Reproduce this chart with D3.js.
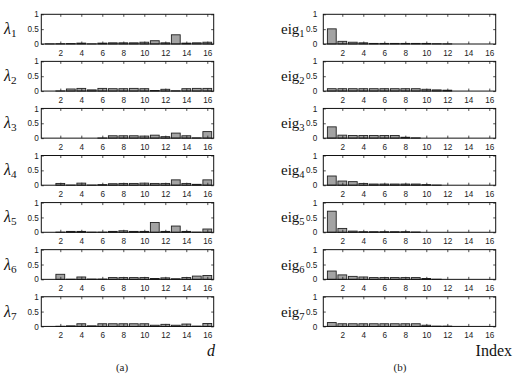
<!DOCTYPE html>
<html><head><meta charset="utf-8">
<script src="https://cdn.jsdelivr.net/npm/d3@7"></script>
<style>body{margin:0;background:#fff}svg{display:block}</style>
</head><body>
<svg id="c" width="513" height="375"></svg>
<script>
// ---- data ----
const indices = d3.range(1, 17);
const xTicks = [2, 4, 6, 8, 10, 12, 14, 16];
const yTicks = [0, 0.5, 1];
const yTickLabels = ["0", "0.5", "1"];

const lambda1 = [0.005, 0.01, 0.015, 0.03, 0.005, 0.03, 0.04, 0.04, 0.04, 0.06, 0.11, 0.04, 0.31, 0.03, 0.04, 0.06];
const lambda2 = [0, 0.005, 0.07, 0.09, 0.04, 0.09, 0.08, 0.08, 0.09, 0.08, 0.02, 0.06, 0.01, 0.08, 0.09, 0.09];
const lambda3 = [0, 0, 0, 0, 0, 0.005, 0.08, 0.08, 0.08, 0.07, 0.10, 0.05, 0.17, 0.08, 0.01, 0.22];
const lambda4 = [0, 0.06, 0.005, 0.07, 0.005, 0.02, 0.05, 0.06, 0.06, 0.07, 0.06, 0.06, 0.18, 0.06, 0.03, 0.18];
const lambda5 = [0, 0.005, 0.03, 0.03, 0.005, 0.005, 0.03, 0.05, 0.03, 0.03, 0.33, 0.03, 0.21, 0.03, 0.005, 0.11];
const lambda6 = [0, 0.17, 0.005, 0.08, 0.01, 0.01, 0.06, 0.06, 0.06, 0.06, 0.03, 0.05, 0.02, 0.06, 0.11, 0.13];
const lambda7 = [0, 0.005, 0.02, 0.09, 0.02, 0.09, 0.09, 0.09, 0.09, 0.09, 0.04, 0.07, 0.04, 0.08, 0.01, 0.10];

const eig1 = [0.51, 0.09, 0.06, 0.04, 0.02, 0.02, 0.02, 0.02, 0.02, 0.02, 0.01, 0.005, 0, 0, 0, 0];
const eig2 = [0.08, 0.08, 0.08, 0.08, 0.08, 0.08, 0.08, 0.08, 0.08, 0.06, 0.04, 0.03, 0, 0, 0, 0];
const eig3 = [0.38, 0.10, 0.09, 0.09, 0.09, 0.09, 0.09, 0.03, 0.01, 0, 0, 0, 0, 0, 0, 0];
const eig4 = [0.31, 0.14, 0.12, 0.06, 0.04, 0.04, 0.04, 0.04, 0.04, 0.02, 0.005, 0, 0, 0, 0, 0];
const eig5 = [0.71, 0.13, 0.04, 0.02, 0.02, 0.02, 0.02, 0.02, 0.01, 0, 0, 0, 0, 0, 0, 0];
const eig6 = [0.28, 0.15, 0.10, 0.08, 0.06, 0.06, 0.06, 0.06, 0.06, 0.03, 0.005, 0, 0, 0, 0, 0];
const eig7 = [0.13, 0.09, 0.09, 0.09, 0.09, 0.09, 0.09, 0.09, 0.09, 0.04, 0.01, 0.01, 0, 0, 0, 0];

const lambdaSeries = [lambda1, lambda2, lambda3, lambda4, lambda5, lambda6, lambda7];
const eigSeries = [eig1, eig2, eig3, eig4, eig5, eig6, eig7];
const subscripts = ["1", "2", "3", "4", "5", "6", "7"];

// ---- layout ----
const svg = d3.select("#c");
const rowTop0 = 14.3, rowStep = 47.07, rowH = 29.7;

const columns = [
  { x0: 41.3, x1: 213.7, base: "λ", italic: true, labelX: 4, labelSize: 16, tickGap: 2.5,
    series: lambdaSeries, xTitle: "d", xTitleItalic: true, xTitleX: 215, caption: "(a)", captionX: 122 },
  { x0: 323.3, x1: 495.7, base: "eig", italic: false, labelX: 281, labelSize: 15, tickGap: 6,
    series: eigSeries, xTitle: "Index", xTitleItalic: false, xTitleX: 512, caption: "(b)", captionX: 400 }
];

columns.forEach(col => {
  const x = d3.scaleLinear().domain([0.19, 16.61]).range([col.x0, col.x1]);
  const bw = (x(1) - x(0)) * 0.84;
  col.series.forEach((vals, i) => {
    const top = rowTop0 + i * rowStep;
    const y = d3.scaleLinear().domain([0, 1]).range([top + rowH, top]);
    const g = svg.append("g");

    // bars
    g.selectAll("rect.bar").data(indices).join("rect")
      .attr("x", d => x(d) - bw / 2)
      .attr("y", d => y(vals[d - 1]))
      .attr("width", bw)
      .attr("height", d => y(0) - y(vals[d - 1]))
      .attr("fill", "#a3a3a3")
      .attr("stroke", "#222")
      .attr("stroke-width", 0.9);

    // axes (ticks inward)
    const axB = d3.axisBottom(x).tickValues(xTicks).tickSizeInner(-2.5).tickSizeOuter(0).tickPadding(6);
    const axT = d3.axisTop(x).tickValues(xTicks).tickSizeInner(-2.5).tickSizeOuter(0).tickFormat("");
    const axL = d3.axisLeft(y).tickValues(yTicks).tickSizeInner(-2.5).tickSizeOuter(0)
      .tickFormat((d, k) => yTickLabels[k]).tickPadding(col.tickGap);
    const axR = d3.axisRight(y).tickValues(yTicks).tickSizeInner(-2.5).tickSizeOuter(0).tickFormat("");

    const gb = g.append("g").attr("transform", `translate(0,${y(0)})`).call(axB);
    const gt = g.append("g").attr("transform", `translate(0,${y(1)})`).call(axT);
    const gl = g.append("g").attr("transform", `translate(${col.x0},0)`).call(axL);
    const gr = g.append("g").attr("transform", `translate(${col.x1},0)`).call(axR);
    [gb, gt, gl, gr].forEach(a => {
      a.select(".domain").remove();
      a.selectAll(".tick line").attr("stroke", "#222").attr("stroke-width", 0.8);
      a.selectAll(".tick text").attr("fill", "#222")
        .style("font-family", "'Liberation Sans', Arial, sans-serif").style("font-size", "8.2px");
    });

    // box
    g.append("rect").attr("x", col.x0).attr("y", top).attr("width", col.x1 - col.x0).attr("height", rowH)
      .attr("fill", "none").attr("stroke", "#111").attr("stroke-width", 1);

    // row label
    const t = g.append("text").attr("x", col.labelX).attr("y", top + rowH / 2 + 5)
      .style("font-family", "'Liberation Serif', 'Times New Roman', serif")
      .style("font-size", col.labelSize + "px").attr("fill", "#111");
    t.append("tspan").text(col.base).style("font-style", col.italic ? "italic" : "normal");
    t.append("tspan").text(subscripts[i]).attr("dy", 3).style("font-size", (col.labelSize * 0.7) + "px");
  });

  // x title
  svg.append("text").attr("x", col.xTitleX).attr("y", 356).attr("text-anchor", "end")
    .style("font-family", "'Liberation Serif', 'Times New Roman', serif").style("font-size", "16px")
    .style("font-style", col.xTitleItalic ? "italic" : "normal").attr("fill", "#111").text(col.xTitle);
  // caption
  svg.append("text").attr("x", col.captionX).attr("y", 371).attr("text-anchor", "middle")
    .style("font-family", "'Liberation Serif', 'Times New Roman', serif").style("font-size", "11px")
    .attr("fill", "#222").text(col.caption);
});
</script>
</body></html>
